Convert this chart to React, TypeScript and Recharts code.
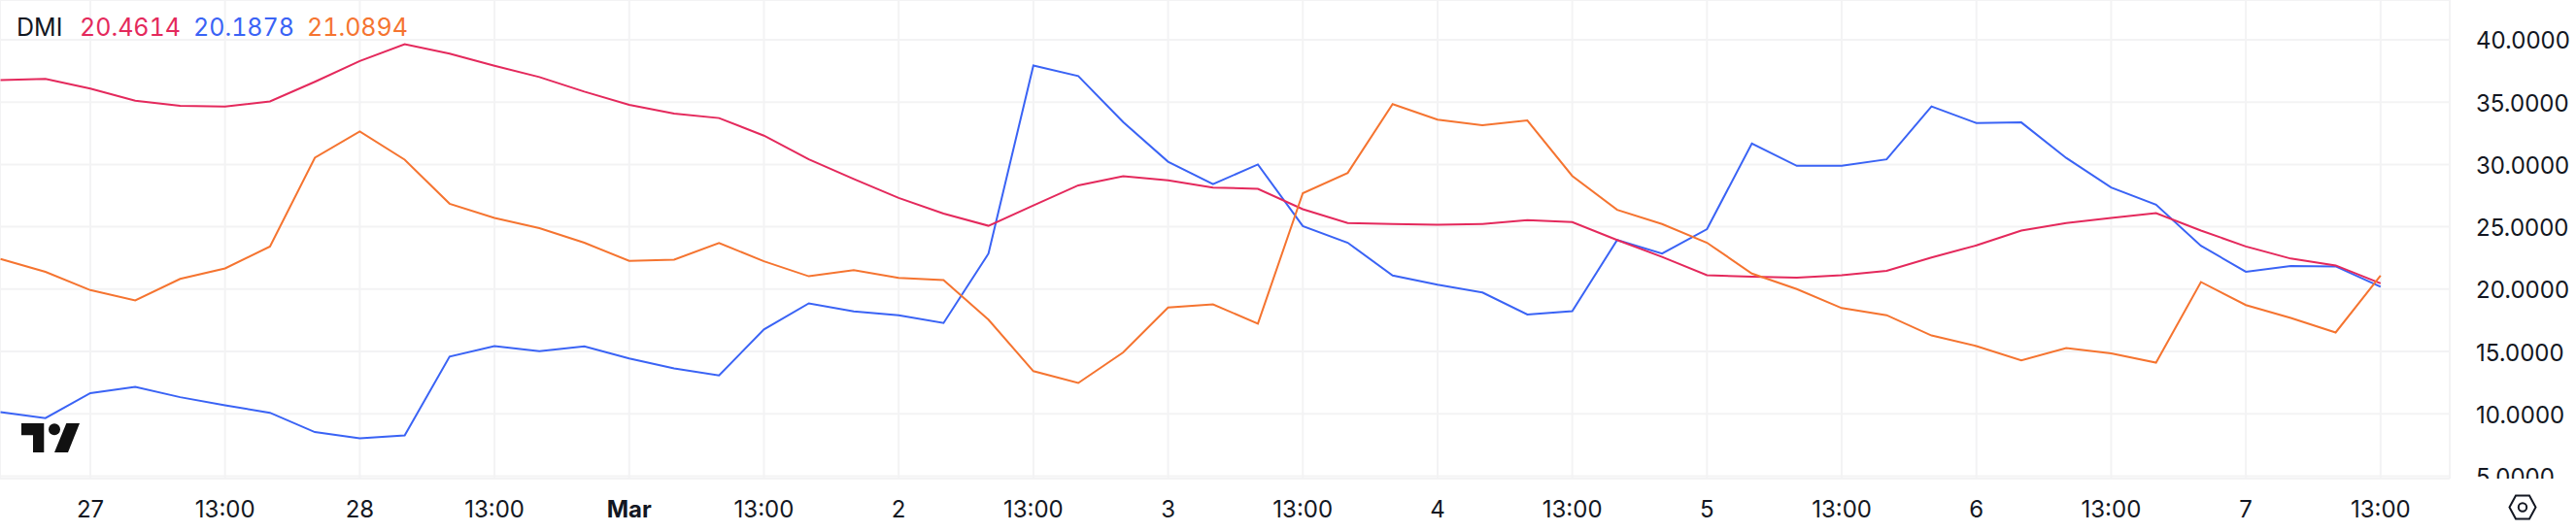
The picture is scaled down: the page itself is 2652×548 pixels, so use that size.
import React from "react";
import { LineChart, Line, XAxis, YAxis, CartesianGrid } from "recharts";

const redValues = [
  36.77, 36.87, 36.09, 35.11, 34.7, 34.65, 35.05, 36.63, 38.29, 39.65, 38.89, 37.91, 37.01, 35.84, 34.78, 34.08, 33.72, 32.31,
  30.41, 28.83, 27.31, 26.06, 25.08, 26.71, 28.32, 29.05, 28.72, 28.15, 28.04, 26.41, 25.3, 25.22, 25.16, 25.22, 25.54, 25.38,
  23.94, 22.58, 21.11, 21.0, 20.92, 21.11, 21.47, 22.53, 23.51, 24.7, 25.3, 25.71, 26.09, 24.7, 23.42, 22.45, 21.9, 20.4614,
];
const blueValues = [
  10.14, 9.65, 11.66, 12.15, 11.33, 10.68, 10.08, 8.53, 8.04, 8.26, 14.59, 15.43, 15.03, 15.41, 14.43, 13.64, 13.07, 16.77,
  18.86, 18.21, 17.91, 17.28, 22.85, 37.93, 37.09, 33.4, 30.22, 28.42, 30.0, 25.05, 23.72, 21.09, 20.35, 19.73, 17.96, 18.23,
  23.94, 22.85, 24.81, 31.68, 29.89, 29.89, 30.41, 34.65, 33.32, 33.37, 30.52, 28.15, 26.77, 23.48, 21.39, 21.85, 21.82, 20.1878,
];
const orangeValues = [
  22.42, 21.39, 19.92, 19.1, 20.82, 21.66, 23.42, 30.54, 32.64, 30.38, 26.85, 25.71, 24.89, 23.72, 22.26, 22.36, 23.7, 22.23,
  21.03, 21.52, 20.9, 20.73, 17.55, 13.42, 12.47, 14.92, 18.53, 18.78, 17.23, 27.69, 29.32, 34.84, 33.59, 33.15, 33.53, 29.08,
  26.36, 25.22, 23.72, 21.25, 20.0, 18.48, 17.91, 16.28, 15.43, 14.29, 15.27, 14.84, 14.1, 20.57, 18.72, 17.69, 16.52, 21.0894,
];

const xTickIndex = [2, 5, 8, 11, 14, 17, 20, 23, 26, 29, 32, 35, 38, 41, 44, 47, 50, 53];
const xTickLabels = [
  "27", "13:00", "28", "13:00", "Mar", "13:00", "2", "13:00", "3", "13:00", "4", "13:00", "5", "13:00", "6", "13:00", "7", "13:00",
];
const yTicks = [5, 10, 15, 20, 25, 30, 35, 40];

const legendItems = [
  { label: "DMI", left: 17, color: "#131722" },
  { label: "20.4614", left: 82, color: "#E4295C" },
  { label: "20.1878", left: 199, color: "#3A63F5" },
  { label: "21.0894", left: 316, color: "#F57430" },
];

const FONT = "Inter, sans-serif";
const TEXT = "#131722";
const GRID = "#F3F3F4";

const data = redValues.map((red, i) => ({
  i,
  red,
  blue: blueValues[i],
  orange: orangeValues[i],
}));

const XTick = (props: any) => {
  const { x, payload } = props;
  const label = xTickLabels[xTickIndex.indexOf(payload.value)];
  return (
    <text
      x={x}
      y={524}
      textAnchor="middle"
      dominantBaseline="central"
      fontFamily={FONT}
      fontSize={24}
      fontWeight={label === "Mar" ? 700 : 400}
      fill={TEXT}
    >
      {label}
    </text>
  );
};

const YTick = (props: any) => {
  const { x, y, payload } = props;
  return (
    <g clipPath="url(#price-clip)">
      <defs>
        <clipPath id="price-clip">
          <rect x={2522} y={0} width={130} height={493} />
        </clipPath>
      </defs>
      <text
        x={x + 19}
        y={y + 1}
        textAnchor="start"
        dominantBaseline="central"
        fontFamily={FONT}
        fontSize={24}
        fill={TEXT}
      >
        {payload.value.toFixed(4)}
      </text>
    </g>
  );
};

const App = () => {
  return (
    <div style={{ position: "absolute", left: 0, top: 0, width: 2652, height: 548, background: "#fff" }}>
      <LineChart width={2652} height={548} data={data} margin={{ top: 0, right: 0, bottom: 0, left: 0 }}>
        <CartesianGrid stroke={GRID} strokeWidth={2} />
        <XAxis
          dataKey="i"
          type="number"
          domain={[-0.0115, 54.54]}
          allowDataOverflow
          ticks={xTickIndex}
          interval={0}
          height={55}
          axisLine={false}
          tickLine={false}
          tick={<XTick />}
        />
        <YAxis
          orientation="right"
          type="number"
          domain={[4.8, 43.19]}
          allowDataOverflow
          ticks={yTicks}
          interval={0}
          width={130}
          axisLine={false}
          tickLine={false}
          tick={<YTick />}
        />
        <Line dataKey="blue" type="linear" stroke="#3A63F5" strokeWidth={2} dot={false} activeDot={false} isAnimationActive={false} />
        <Line dataKey="red" type="linear" stroke="#E4295C" strokeWidth={2} dot={false} activeDot={false} isAnimationActive={false} />
        <Line dataKey="orange" type="linear" stroke="#F57430" strokeWidth={2} dot={false} activeDot={false} isAnimationActive={false} />
      </LineChart>

      {legendItems.map((item) => (
        <span
          key={item.left}
          style={{
            position: "absolute",
            left: item.left,
            top: 12,
            lineHeight: "32px",
            fontFamily: FONT,
            fontSize: 25,
            fontVariantNumeric: "tabular-nums",
            color: item.color,
          }}
        >
          {item.label}
        </span>
      ))}

      {/* logo */}
      <svg style={{ position: "absolute", left: 22, top: 436 }} width={60} height={30} viewBox="0 0 60 30">
        <path d="M0 0H23.3V30H12V12.3H0Z" fill="#111" />
        <circle cx={34} cy={6.3} r={6} fill="#111" />
        <path d="M46.3 0H60L48 30H34Z" fill="#111" />
      </svg>

      {/* settings icon */}
      <svg style={{ position: "absolute", left: 2582, top: 509 }} width={30} height={27} viewBox="0 0 30 27">
        <path d="M8 1.5H22L28.5 13.5L22 25.5H8L1.5 13.5Z" fill="none" stroke="#131722" strokeWidth={2} />
        <circle cx={15} cy={13.5} r={4.2} fill="none" stroke="#131722" strokeWidth={2} />
      </svg>
    </div>
  );
};

export default App;
